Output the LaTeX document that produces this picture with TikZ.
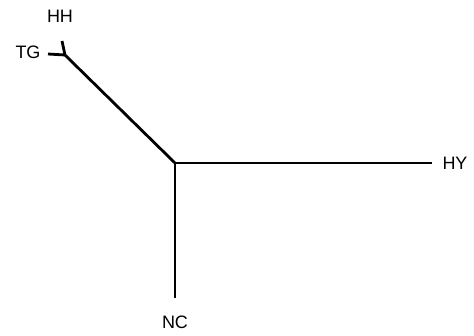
\documentclass[tikz,border=0pt]{standalone}
\usepackage{fontspec}
\setmainfont{Liberation Sans}
\begin{document}
\begin{tikzpicture}[x=1pt,y=-1pt,
  branch/.style={line width=2.8pt,line cap=butt},
  lbl/.style={font=\fontsize{18}{18}\selectfont,inner sep=0pt}]
\useasboundingbox (0,0) rectangle (474,335);
\coordinate (root) at (175,163);
\coordinate (inner) at (65,55);
\coordinate (hhend) at (62,41);
\coordinate (tgend) at (48,54);
\coordinate (hyend) at (432,163);
\coordinate (ncend) at (175,298);
\node[lbl] (HH) at (60,16) {HH};
\node[lbl] (TG) at (28,52) {TG};
\node[lbl] (HY) at (455,163) {HY};
\node[lbl] (NC) at (175,322) {NC};
\draw[branch] (root) -- (inner);
\draw[branch] (inner) -- (hhend);
\draw[branch] (inner) -- (tgend);
\draw[branch] (root) -- (hyend);
\draw[branch] (root) -- (ncend);
\end{tikzpicture}
\end{document}
